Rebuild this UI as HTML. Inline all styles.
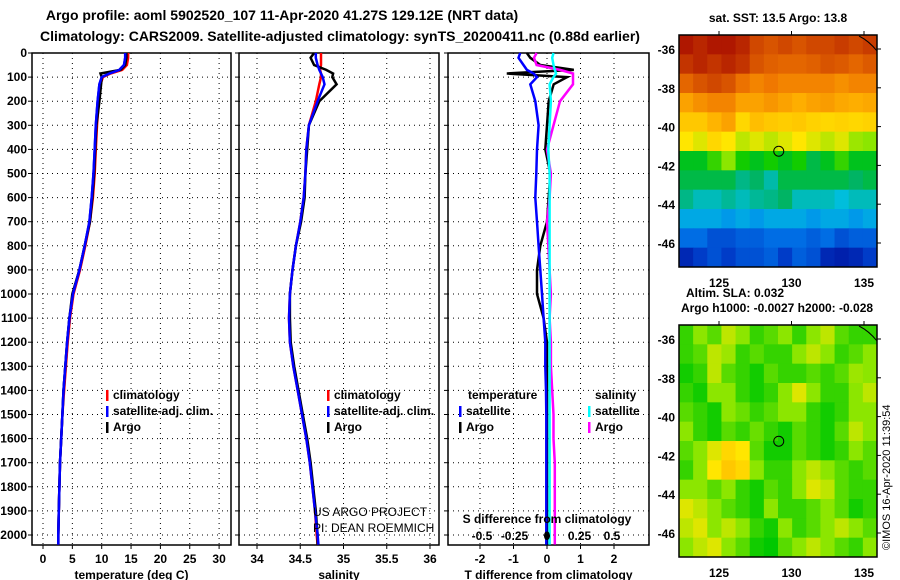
<!DOCTYPE html>
<html><head><meta charset="utf-8"><style>
body{margin:0;background:#fff}
svg{display:block;font-family:"Liberation Sans",sans-serif;font-weight:bold}
</style></head><body>
<svg id="c" width="900" height="580" viewBox="0 0 900 580">
<text x="282" y="20" font-size="14" text-anchor="middle">Argo profile: aoml 5902520_107 11-Apr-2020 41.27S 129.12E (NRT data)</text>
<text x="340" y="41" font-size="14" text-anchor="middle">Climatology: CARS2009. Satellite-adjusted climatology: synTS_20200411.nc (0.88d earlier)</text>
<g id="p1"></g>
<g id="p2"></g>
<g id="p3"></g>
<g id="m1"></g>
<g id="m2"></g>
<text x="735" y="22" font-size="12" text-anchor="middle" transform="translate(43,0)">sat. SST: 13.5 Argo: 13.8</text>
<text x="735" y="297" font-size="12" text-anchor="middle">Altim. SLA: 0.032</text>
<text x="777" y="312" font-size="12" text-anchor="middle">Argo h1000: -0.0027 h2000: -0.028</text>
<text transform="translate(890,550) rotate(-90)" font-size="11" font-weight="normal">©IMOS 16-Apr-2020 11:39:54</text>
</svg>
<script>
const depths=[0,20,50,70,85,100,130,200,300,400,500,600,700,800,900,1000,1100,1200,1300,1400,1500,1600,1700,1800,1900,2000,2040];
const tempClim=[14.5,14.5,14.3,13.5,11.5,10.2,9.8,9.5,9.2,9.0,8.8,8.5,8.0,7.2,6.3,5.2,4.6,4.2,3.9,3.6,3.3,3.1,2.9,2.8,2.7,2.6,2.6];
const tempSat=[14.0,14.0,13.8,13.0,11.3,10.0,9.6,9.3,9.0,8.8,8.6,8.3,7.9,7.1,6.2,5.1,4.5,4.1,3.8,3.5,3.3,3.1,2.9,2.8,2.7,2.6,2.6];
const tempArgo=[14.2,14.2,14.0,13.2,9.8,10.0,9.9,9.6,9.1,8.9,8.7,8.4,8.0,7.1,6.2,5.0,4.5,4.1,3.8,3.5,3.3,3.1,2.9,2.8,2.7,2.6,2.6];
const salClim=[34.74,34.74,34.74,34.73,34.74,34.74,34.72,34.68,34.6,34.57,34.56,34.54,34.5,34.45,34.41,34.38,34.37,34.38,34.42,34.47,34.52,34.57,34.61,34.64,34.67,34.69,34.7];
const salSat=[34.68,34.68,34.7,34.72,34.74,34.76,34.78,34.7,34.6,34.57,34.56,34.54,34.5,34.45,34.41,34.38,34.37,34.38,34.42,34.47,34.52,34.57,34.61,34.64,34.67,34.7,34.71];
const salArgo=[34.66,34.62,34.66,34.8,34.88,34.87,34.92,34.72,34.6,34.58,34.56,34.55,34.51,34.45,34.41,34.38,34.38,34.39,34.43,34.48,34.53,34.58,34.62,34.65,34.68,34.7,34.7];
const tDiffSat=[-0.8,-0.85,-0.7,-0.6,-0.4,-0.3,-0.5,-0.35,-0.25,-0.3,-0.32,-0.35,-0.3,-0.25,-0.2,-0.15,-0.1,-0.05,-0.05,-0.03,-0.02,-0.02,-0.02,-0.02,-0.02,-0.02,-0.02];
const tDiffArgo=[-0.6,-0.5,-0.2,0.8,-1.2,0.6,0.2,0.05,0,-0.05,0.1,0.05,0,-0.2,-0.3,-0.3,-0.1,0,0,0,0,0,0,0,0,0,0];
const sDiffSat=[0.05,0.04,0.05,0.06,0.07,0.05,0.02,0.03,0.02,0.01,0.02,0.02,0.02,0.02,0.02,0.02,0.02,0.02,0.02,0.02,0.02,0.02,0.02,0.02,0.02,0.02,0.02];
const sDiffArgo=[-0.08,-0.1,-0.08,0.1,0.2,0.2,0.2,0.1,0.05,0,0.03,0.02,0,0.01,0.02,0.03,0.02,0.03,0.03,0.04,0.05,0.05,0.06,0.06,0.06,0.06,0.06];
const depthTicks=[0,100,200,300,400,500,600,700,800,900,1000,1100,1200,1300,1400,1500,1600,1700,1800,1900,2000];
const tempTicks=[0,5,10,15,20,25,30];
const salTicks=[34,34.5,35,35.5,36];
const tDiffTicks=[-2,-1,0,1,2];
const sDiffTickLabels=["-0.5","-0.25","0","0.25","0.5"];
const sDiffTicks=[-0.5,-0.25,0,0.25,0.5];
const latTicks=[-36,-38,-40,-42,-44,-46];
const lonTicks=[125,130,135];
const sstGrid=[
[.97,.95,.97,.97,.95,.9,.88,.9,.88,.9,.9,.92,.9,.92],
[.93,.95,.93,.95,.93,.88,.86,.85,.85,.86,.88,.87,.85,.87],
[.85,.88,.9,.88,.83,.8,.82,.8,.8,.8,.8,.78,.8,.8],
[.75,.78,.8,.8,.75,.75,.77,.75,.73,.75,.76,.74,.73,.74],
[.68,.68,.72,.75,.65,.7,.68,.67,.68,.66,.65,.66,.65,.66],
[.62,.6,.65,.62,.58,.6,.58,.6,.62,.6,.58,.6,.56,.55],
[.45,.45,.5,.55,.48,.45,.48,.45,.48,.42,.45,.5,.45,.45],
[.42,.42,.42,.42,.38,.4,.36,.42,.42,.42,.42,.42,.4,.42],
[.38,.35,.35,.37,.35,.37,.38,.4,.35,.35,.35,.33,.35,.35],
[.3,.3,.3,.28,.3,.28,.3,.3,.3,.28,.3,.3,.28,.3],
[.22,.22,.18,.18,.2,.2,.22,.22,.22,.2,.22,.18,.2,.2],
[.1,.15,.18,.15,.18,.18,.2,.15,.2,.18,.1,.08,.1,.15]];
const slaGrid=[
[.5,.55,.52,.58,.55,.5,.52,.55,.5,.55,.58,.52,.5,.5],
[.5,.52,.58,.56,.5,.52,.5,.5,.55,.58,.55,.5,.52,.55],
[.48,.5,.58,.52,.5,.48,.52,.5,.5,.52,.5,.52,.56,.55],
[.5,.48,.55,.55,.5,.48,.5,.55,.6,.55,.5,.5,.55,.58],
[.52,.5,.48,.55,.53,.5,.52,.55,.55,.5,.48,.5,.55,.55],
[.55,.5,.48,.52,.5,.53,.5,.48,.52,.5,.48,.52,.58,.55],
[.52,.55,.6,.65,.62,.52,.48,.48,.52,.5,.48,.5,.55,.52],
[.5,.55,.62,.68,.65,.55,.5,.5,.55,.58,.55,.52,.5,.52],
[.55,.55,.52,.55,.5,.48,.52,.5,.55,.6,.58,.52,.5,.5],
[.6,.58,.55,.52,.5,.48,.55,.5,.5,.52,.55,.52,.48,.5],
[.58,.6,.55,.58,.55,.5,.48,.55,.5,.52,.55,.58,.55,.52],
[.55,.58,.6,.55,.52,.48,.47,.52,.55,.58,.55,.52,.5,.55]];
const argoLon=129.12, argoLat=-41.27;

const NS="http://www.w3.org/2000/svg";
function mk(parent,tag,attrs){const e=document.createElementNS(NS,tag);for(const k in attrs)e.setAttribute(k,attrs[k]);parent.appendChild(e);return e;}
const yD=d=>53+d*0.241;
const TOP=53,BOT=545;

function panel(g,L,R,xs,ticks,labels,xlabel,grid){
  const fr=mk(g,'rect',{x:L,y:TOP,width:R-L,height:BOT-TOP,fill:'none',stroke:'#000','stroke-width':1.5});
  
  depthTicks.forEach(d=>{if(d>0){const l=mk(g,'line',{x1:L,x2:R,y1:yD(d),y2:yD(d),stroke:'#000','stroke-dasharray':'1 4'});
    }
    mk(g,'line',{x1:L-4,x2:L,y1:yD(d),y2:yD(d),stroke:'#000'});});
  grid.forEach(v=>{const l=mk(g,'line',{x1:xs(v),x2:xs(v),y1:TOP,y2:BOT,stroke:'#000','stroke-dasharray':'1 4'});
    });
  ticks.forEach((v,i)=>{mk(g,'line',{x1:xs(v),x2:xs(v),y1:BOT,y2:BOT+4,stroke:'#000'});
    const t=mk(g,'text',{x:xs(v),y:563,'font-size':12,'text-anchor':'middle'});t.textContent=labels[i];
    });
  const xl=mk(g,'text',{x:(L+R)/2,y:579,'font-size':12,'text-anchor':'middle'});xl.textContent=xlabel;
  
}
function line(g,vals,xs,color,name){
  const pts=vals.map((v,i)=>xs(v).toFixed(1)+','+yD(depths[i]).toFixed(1)).join(' ');
  const p=mk(g,'polyline',{points:pts,fill:'none',stroke:color,'stroke-width':2.5});
  
}
function txt(g,x,y,s,name,anchor,size,weight){const t=mk(g,'text',{x:x,y:y,'font-size':size||12,'text-anchor':anchor||'start'});
  if(weight)t.setAttribute('font-weight',weight);t.textContent=s;
  return t;}
function legend(g,x,y,items){items.forEach((it,i)=>{mk(g,'rect',{x:x,y:y+i*16-9,width:2.5,height:11,fill:it[1]});
  txt(g,x+7,y+i*16,it[0],'legend-entry');});}

// Panel 1
const p1=document.getElementById('p1');
const xT=v=>43+v*5.87;
panel(p1,32,231,xT,tempTicks,tempTicks.map(String),'temperature (deg C)',tempTicks);
depthTicks.forEach(d=>txt(p1,27,yD(d)+4,String(d),'y-tick-label','end'));
line(p1,tempClim,xT,'#f00','temp-climatology-line');
line(p1,tempSat,xT,'#00f','temp-satellite-line');
line(p1,tempArgo,xT,'#000','temp-argo-line');
line(p1,tempSat,xT,'#00f','temp-satellite-line-top');
legend(p1,106,399,[['climatology','#f00'],['satellite-adj. clim.','#00f'],['Argo','#000']]);

// Panel 2
const p2=document.getElementById('p2');
const xS=v=>257+(v-34)*86.5;
panel(p2,239,439,xS,salTicks,salTicks.map(String),'salinity',salTicks);
line(p2,salClim,xS,'#f00','sal-climatology-line');
line(p2,salArgo,xS,'#000','sal-argo-line');
line(p2,salSat,xS,'#00f','sal-satellite-line');
legend(p2,327,399,[['climatology','#f00'],['satellite-adj. clim.','#00f'],['Argo','#000']]);
txt(p2,313,516,'US ARGO PROJECT','project-credit','start',12,'normal');
txt(p2,313,532,'PI: DEAN ROEMMICH','pi-credit','start',12,'normal');

// Panel 3
const p3=document.getElementById('p3');
const xTd=v=>547+v*33.5, xSd=v=>547+v*130;
panel(p3,448,649,xTd,tDiffTicks,tDiffTicks.map(String),'T difference from climatology',tDiffTicks);
line(p3,tDiffArgo,xTd,'#000','tdiff-argo-line');
line(p3,sDiffArgo,xSd,'#f0f','sdiff-argo-line');
line(p3,sDiffSat,xSd,'#0ff','sdiff-satellite-line');
line(p3,tDiffSat,xTd,'#00f','tdiff-satellite-line');
txt(p3,468,399,'temperature','legend-title-temperature');
txt(p3,595,399,'salinity','legend-title-salinity');
legend(p3,459,415,[['satellite','#00f'],['Argo','#000']]);
legend(p3,588,415,[['satellite','#0ff'],['Argo','#f0f']]);
txt(p3,547,523,'S difference from climatology','s-diff-axis-title','middle');
sDiffTicks.forEach((v,i)=>txt(p3,xSd(v),540,sDiffTickLabels[i],'s-diff-tick-label','middle'));
mk(p3,'circle',{cx:547,cy:536,r:3,fill:'#000'});

// Maps
const stops=[[0,[0,0,140]],[.15,[0,60,200]],[.25,[0,130,240]],[.33,[0,190,220]],[.4,[0,180,100]],[.47,[0,200,0]],[.55,[140,230,0]],[.62,[255,230,0]],[.72,[255,180,0]],[.82,[240,120,0]],[.92,[200,60,0]],[1,[160,0,0]]];
function cmap(v){for(let i=1;i<stops.length;i++){if(v<=stops[i][0]){const a=stops[i-1],b=stops[i],t=(v-a[0])/(b[0]-a[0]);
  return 'rgb('+a[1].map((c,k)=>Math.round(c+(b[1][k]-c)*t)).join(',')+')';}}return 'rgb(160,0,0)';}
function map(id,top,grid){
  const g=document.getElementById(id);const L=679,R=877,B=top+232;
  const lonX=v=>719+(v-125)*14.5, latY=v=>top+14+(-36-v)*19.4;
  const rows=grid.length,cols=grid[0].length,cw=(R-L)/cols,ch=(B-top)/rows;
  grid.forEach((row,r)=>row.forEach((v,c)=>{const e=mk(g,'rect',{x:L+c*cw,y:top+r*ch,width:cw+0.5,height:ch+0.5,fill:cmap(v)});
    }));
  mk(g,'rect',{x:L,y:top,width:R-L,height:B-top,fill:'none',stroke:'#000','stroke-width':1.5});
  mk(g,'path',{d:`M${R-18} ${top+1} Q${R-8} ${top+6} ${R} ${top+16}`,fill:'none',stroke:'#000'});
  latTicks.forEach(v=>{mk(g,'line',{x1:R,x2:R+4,y1:latY(v),y2:latY(v),stroke:'#000'});
    txt(g,675,latY(v)+5,String(v),'lat-tick-label','end');});
  lonTicks.forEach(v=>{mk(g,'line',{x1:lonX(v),x2:lonX(v),y1:top-4,y2:top,stroke:'#000'});
    txt(g,lonX(v),B+20,String(v),'lon-tick-label','middle');});
  const c=mk(g,'circle',{cx:lonX(argoLon),cy:latY(argoLat),r:5,fill:'none',stroke:'#000'});
  
}
map('m1',35,sstGrid);
map('m2',325,slaGrid);
</script>
</body></html>
